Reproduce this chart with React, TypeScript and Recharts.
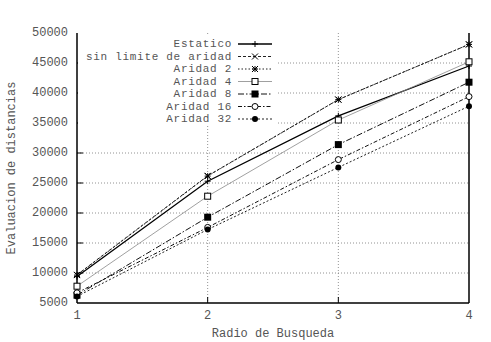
import React from 'react';
import { LineChart, Line, XAxis, YAxis, CartesianGrid, Legend } from 'recharts';

// Radio de busqueda vs. evaluaciones de distancia
const radio = [1, 2, 3, 4];
const estatico = [9400, 25300, 36200, 44500];
const sinLimite = [9700, 26200, 38900, 48100];
const aridad2 = [9650, 26150, 38900, 48100];
const aridad4 = [7800, 22800, 35500, 45200];
const aridad8 = [6300, 19300, 31400, 41800];
const aridad16 = [6700, 17600, 28900, 39400];
const aridad32 = [6100, 17250, 27600, 37800];

const yTicks = [5000, 10000, 15000, 20000, 25000, 30000, 35000, 40000, 45000, 50000];
const xTicks = [1, 2, 3, 4];

const data = radio.map((r, i) => ({
  radio: r,
  estatico: estatico[i],
  sinLimite: sinLimite[i],
  aridad2: aridad2[i],
  aridad4: aridad4[i],
  aridad8: aridad8[i],
  aridad16: aridad16[i],
  aridad32: aridad32[i],
}));

const FONT = '"Liberation Mono", "DejaVu Sans Mono", monospace';
const TEXT = '#555';

type MarkerKind = 'plus' | 'cross' | 'star' | 'box' | 'fbox' | 'circle' | 'fcircle';

const Marker = ({ kind, cx, cy }: { kind: MarkerKind; cx: number; cy: number }) => {
  const s = 3;
  switch (kind) {
    case 'plus':
      return (
        <g stroke="#000" strokeWidth={1}>
          <line x1={cx - s} y1={cy} x2={cx + s} y2={cy} />
          <line x1={cx} y1={cy - s} x2={cx} y2={cy + s} />
        </g>
      );
    case 'cross':
      return (
        <g stroke="#000" strokeWidth={1}>
          <line x1={cx - s} y1={cy - s} x2={cx + s} y2={cy + s} />
          <line x1={cx - s} y1={cy + s} x2={cx + s} y2={cy - s} />
        </g>
      );
    case 'star':
      return (
        <g stroke="#000" strokeWidth={1}>
          <line x1={cx - s} y1={cy} x2={cx + s} y2={cy} />
          <line x1={cx} y1={cy - s} x2={cx} y2={cy + s} />
          <line x1={cx - s} y1={cy - s} x2={cx + s} y2={cy + s} />
          <line x1={cx - s} y1={cy + s} x2={cx + s} y2={cy - s} />
        </g>
      );
    case 'box':
      return <rect x={cx - 3} y={cy - 3} width={6} height={6} fill="#fff" stroke="#000" strokeWidth={1} />;
    case 'fbox':
      return <rect x={cx - 3.5} y={cy - 3.5} width={7} height={7} fill="#000" />;
    case 'circle':
      return <circle cx={cx} cy={cy} r={3} fill="#fff" stroke="#000" strokeWidth={1} />;
    default:
      return <circle cx={cx} cy={cy} r={3} fill="#000" />;
  }
};

const series: {
  key: string;
  name: string;
  stroke: string;
  width: number;
  dash?: string;
  marker: MarkerKind;
}[] = [
  { key: 'estatico', name: 'Estatico', stroke: '#000', width: 1.3, marker: 'plus' },
  { key: 'sinLimite', name: 'sin limite de aridad', stroke: '#222', width: 1, dash: '3 2', marker: 'cross' },
  { key: 'aridad2', name: 'Aridad 2', stroke: '#222', width: 1, dash: '1.5 2', marker: 'star' },
  { key: 'aridad4', name: 'Aridad 4', stroke: '#888', width: 0.8, marker: 'box' },
  { key: 'aridad8', name: 'Aridad 8', stroke: '#111', width: 1, dash: '6 2 1.5 2', marker: 'fbox' },
  { key: 'aridad16', name: 'Aridad 16', stroke: '#111', width: 1, dash: '4 2 1.5 2', marker: 'circle' },
  { key: 'aridad32', name: 'Aridad 32', stroke: '#222', width: 1, dash: '2 2', marker: 'fcircle' },
];

// key box, drawn opaque over the grid in the upper left of the plot
const KeyBox = () => (
  <svg width={200} height={92} style={{ display: 'block', background: '#fff' }}>
    {series.map((s, i) => {
      const y = 10 + i * 12.5;
      return (
        <g key={s.key}>
          <text
            x={154}
            y={y}
            textAnchor="end"
            dominantBaseline="central"
            fontFamily={FONT}
            fontSize={11}
            letterSpacing={0.7}
            fill={TEXT}
          >
            {s.name}
          </text>
          <line x1={160} y1={y} x2={194} y2={y} stroke={s.stroke} strokeWidth={s.width} strokeDasharray={s.dash} />
          <Marker kind={s.marker} cx={177} cy={y} />
        </g>
      );
    })}
  </svg>
);

// inward tick marks with labels on the left side
const LeftTick = (props: any) => {
  const { x, y, payload } = props;
  const ax = x + 6;
  return (
    <g>
      {payload.value !== 5000 && payload.value !== 50000 && (
        <line x1={ax} y1={y} x2={ax + 6} y2={y} stroke="#000" strokeWidth={1} />
      )}
      <text x={x - 3} y={y} textAnchor="end" dominantBaseline="central" fontFamily={FONT} fontSize={12} fill={TEXT}>
        {payload.value}
      </text>
    </g>
  );
};

const RightTick = (props: any) => {
  const { x, y, payload } = props;
  if (payload.value === 5000 || payload.value === 50000) return <g />;
  return <line x1={x - 6} y1={y} x2={x} y2={y} stroke="#000" strokeWidth={1} />;
};

const BottomTick = (props: any) => {
  const { x, y, payload } = props;
  const inner = payload.value !== 1 && payload.value !== 4;
  return (
    <g>
      {inner && <line x1={x} y1={y} x2={x} y2={y - 6} stroke="#000" strokeWidth={1} />}
      <text x={x} y={y + 13} textAnchor="middle" dominantBaseline="central" fontFamily={FONT} fontSize={12} fill={TEXT}>
        {payload.value}
      </text>
    </g>
  );
};

const TopTick = (props: any) => {
  const { x, y, payload } = props;
  if (payload.value === 1 || payload.value === 4) return <g />;
  return <line x1={x} y1={y} x2={x} y2={y + 6} stroke="#000" strokeWidth={1} />;
};

export default function App() {
  return (
    <div style={{ position: 'absolute', left: 0, top: 0, width: 491, height: 342, background: '#fff' }}>
      <LineChart width={491} height={342} data={data} margin={{ top: 33, right: 0, bottom: 0, left: 0 }}>
        <CartesianGrid stroke="#777" strokeWidth={0.8} strokeDasharray="1 2" verticalValues={[2, 3]} horizontalValues={[10000, 15000, 20000, 25000, 30000, 35000, 40000, 45000]} />
        <XAxis
          dataKey="radio"
          type="number"
          domain={[1, 4]}
          ticks={xTicks}
          height={39}
          tickSize={0}
          tickMargin={0}
          tickLine={false}
          axisLine={{ stroke: '#000', strokeWidth: 1.5 }}
          tick={<BottomTick />}
          label={({ viewBox }: any) => (
            <text x={viewBox.x + viewBox.width / 2} y={viewBox.y + 31} textAnchor="middle" dominantBaseline="central" fontFamily={FONT} fontSize={12} fill={TEXT}>
              Radio de Busqueda
            </text>
          )}
        />
        <XAxis
          xAxisId="top"
          dataKey="radio"
          type="number"
          orientation="top"
          domain={[1, 4]}
          ticks={xTicks}
          height={0}
          tickSize={0}
          tickMargin={0}
          tickLine={false}
          axisLine={{ stroke: '#000', strokeWidth: 1.5 }}
          tick={<TopTick />}
          label={({ viewBox }: any) => (
            <text x={viewBox.x + viewBox.width / 2} y={17} textAnchor="middle" dominantBaseline="central" fontFamily={FONT} fontSize={12} fill={TEXT}>
              Costo de Consulta por elemento para N=69069 palabras y K=10
            </text>
          )}
        />
        <YAxis
          type="number"
          domain={[5000, 50000]}
          ticks={yTicks}
          width={77}
          tickSize={0}
          tickMargin={6}
          tickLine={false}
          axisLine={{ stroke: '#000', strokeWidth: 1.5 }}
          tick={<LeftTick />}
          label={({ viewBox }: any) => (
            <text
              x={12}
              y={viewBox.y + viewBox.height / 2}
              transform={`rotate(-90, 12, ${viewBox.y + viewBox.height / 2})`}
              textAnchor="middle"
              dominantBaseline="central"
              fontFamily={FONT}
              fontSize={12}
              fill={TEXT}
            >
              Evaluacion de distancias
            </text>
          )}
        />
        <YAxis
          yAxisId="right"
          orientation="right"
          type="number"
          domain={[5000, 50000]}
          ticks={yTicks}
          width={22}
          tickSize={0}
          tickMargin={0}
          tickLine={false}
          axisLine={{ stroke: '#000', strokeWidth: 1.5 }}
          tick={<RightTick />}
        />
        <Legend
          layout="horizontal"
          verticalAlign="middle"
          align="center"
          content={() => <KeyBox />}
          wrapperStyle={{ position: 'absolute', left: 78, top: 34, width: 200, height: 92 }}
        />
        {series.map((s) => (
          <Line
            key={s.key}
            dataKey={s.key}
            name={s.name}
            type="linear"
            stroke={s.stroke}
            strokeWidth={s.width}
            strokeDasharray={s.dash}
            isAnimationActive={false}
            dot={(p: any) => <Marker key={`${s.key}-${p.index}`} kind={s.marker} cx={p.cx} cy={p.cy} />}
            activeDot={false}
          />
        ))}
      </LineChart>
    </div>
  );
}
